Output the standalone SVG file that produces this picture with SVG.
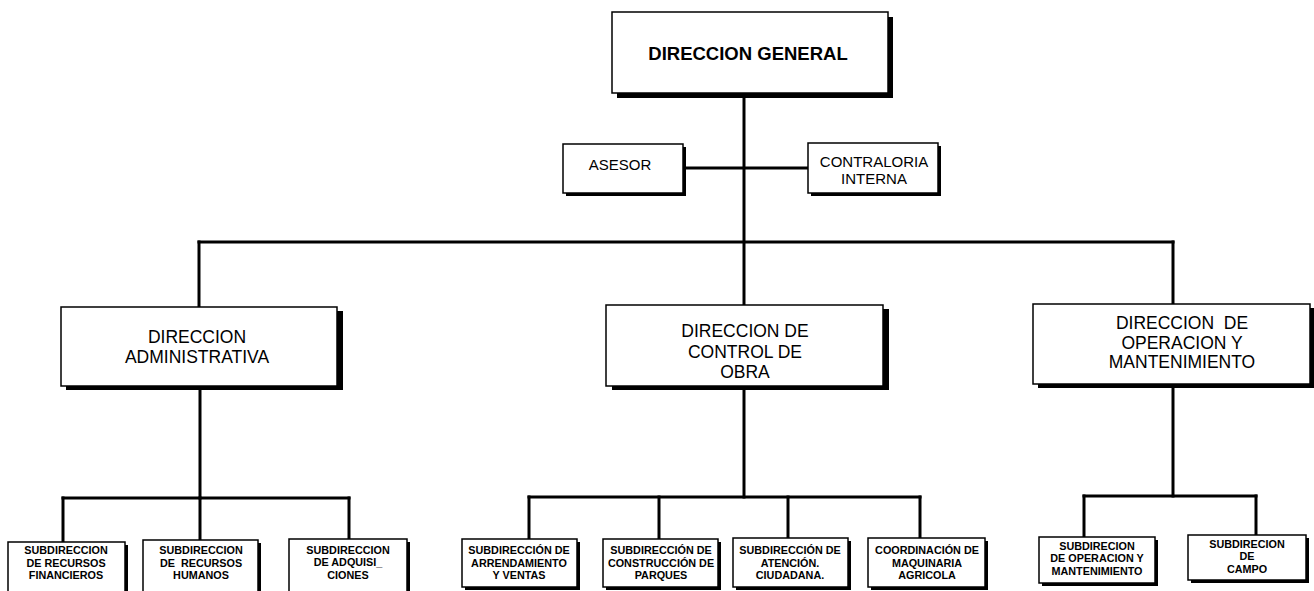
<svg xmlns="http://www.w3.org/2000/svg" width="1314" height="591" viewBox="0 0 1314 591">
<style>
.bg{fill:#ffffff}
.sh{fill:#000000}
.bx{fill:#ffffff;stroke:#000000;stroke-width:1.5}
.ln{stroke:#000000;stroke-width:3;fill:none;stroke-linecap:square}
.t{font-family:"Liberation Sans",Arial,sans-serif;fill:#000000;text-anchor:middle}
.big{font-size:17.5px}
.mid{font-size:15px}
.title{font-size:18.5px;font-weight:bold}
.sm{font-size:10.8px;font-weight:bold}
</style>
<rect class="bg" x="0" y="0" width="1314" height="591"/>
<g id="connectors">
<path class="ln" d="M744 93 V305"/>
<path class="ln" d="M683 168 H808"/>
<path class="ln" d="M199 242 H1173"/>
<path class="ln" d="M199 242 V307"/>
<path class="ln" d="M1173 242 V304"/>
<path class="ln" d="M200 386 V498"/>
<path class="ln" d="M63 498 H349"/>
<path class="ln" d="M63 498 V542"/>
<path class="ln" d="M200 498 V540"/>
<path class="ln" d="M349 498 V539"/>
<path class="ln" d="M744 386 V497"/>
<path class="ln" d="M529 497 H920"/>
<path class="ln" d="M529 497 V539"/>
<path class="ln" d="M659 497 V539"/>
<path class="ln" d="M788 497 V538"/>
<path class="ln" d="M920 497 V538"/>
<path class="ln" d="M1173 384 V496"/>
<path class="ln" d="M1084 496 H1256"/>
<path class="ln" d="M1084 496 V537"/>
<path class="ln" d="M1256 496 V535"/>
</g>
<g id="direccion-general">
<rect class="sh" x="617" y="17" width="276" height="81"/>
<rect class="bx" x="612" y="12" width="276" height="81"/>
<text class="t title" x="748" y="60">DIRECCION GENERAL</text>
</g>
<g id="asesor">
<rect class="sh" x="566" y="147" width="120" height="49"/>
<rect class="bx" x="563" y="144" width="120" height="49"/>
<text class="t mid" x="620" y="170">ASESOR</text>
</g>
<g id="contraloria">
<rect class="sh" x="811" y="146" width="130" height="50"/>
<rect class="bx" x="808" y="143" width="130" height="50"/>
<text class="t mid" x="874" y="167">CONTRALORIA</text>
<text class="t mid" x="874" y="184">INTERNA</text>
</g>
<g id="dir-administrativa">
<rect class="sh" x="66" y="311" width="277" height="79"/>
<rect class="bx" x="61" y="307" width="276" height="79"/>
<text class="t big" x="197" y="343">DIRECCION</text>
<text class="t big" x="197" y="363">ADMINISTRATIVA</text>
</g>
<g id="dir-control-obra">
<rect class="sh" x="612" y="309" width="277" height="81"/>
<rect class="bx" x="606" y="305" width="277" height="81"/>
<text class="t big" x="745" y="337">DIRECCION DE</text>
<text class="t big" x="745" y="357.5">CONTROL DE</text>
<text class="t big" x="745" y="377.5">OBRA</text>
</g>
<g id="dir-operacion">
<rect class="sh" x="1038" y="308" width="277" height="80"/>
<rect class="bx" x="1033" y="304" width="277" height="80"/>
<text class="t big" x="1182" y="329" style="white-space:pre">DIRECCION  DE</text>
<text class="t big" x="1182" y="349">OPERACION Y</text>
<text class="t big" x="1182" y="368">MANTENIMIENTO</text>
</g>
<g id="sub-financieros">
<rect class="sh" x="11" y="545" width="117" height="60"/>
<rect class="bx" x="8" y="542" width="117" height="60"/>
<text class="t sm" x="66" y="554">SUBDIRECCION</text>
<text class="t sm" x="66" y="566.5">DE RECURSOS</text>
<text class="t sm" x="66" y="579">FINANCIEROS</text>
</g>
<g id="sub-humanos">
<rect class="sh" x="146" y="543" width="115" height="60"/>
<rect class="bx" x="143" y="540" width="115" height="60"/>
<text class="t sm" x="201" y="554">SUBDIRECCION</text>
<text class="t sm" x="201" y="566.5" style="white-space:pre">DE  RECURSOS</text>
<text class="t sm" x="201" y="579">HUMANOS</text>
</g>
<g id="sub-adquisiciones">
<rect class="sh" x="292" y="542" width="118" height="60"/>
<rect class="bx" x="289" y="539" width="118" height="60"/>
<text class="t sm" x="348" y="554">SUBDIRECCION</text>
<text class="t sm" x="348" y="566">DE ADQUISI_</text>
<text class="t sm" x="348" y="578.5">CIONES</text>
</g>
<g id="sub-arrendamiento">
<rect class="sh" x="465" y="542" width="115" height="48"/>
<rect class="bx" x="462" y="539" width="115" height="48"/>
<text class="t sm" x="519" y="554">SUBDIRECCIÓN DE</text>
<text class="t sm" x="519" y="566.5">ARRENDAMIENTO</text>
<text class="t sm" x="519" y="579">Y VENTAS</text>
</g>
<g id="sub-parques">
<rect class="sh" x="606" y="542" width="115" height="48"/>
<rect class="bx" x="603" y="539" width="115" height="48"/>
<text class="t sm" x="661" y="554">SUBDIRECCIÓN DE</text>
<text class="t sm" x="661" y="566.5">CONSTRUCCIÓN DE</text>
<text class="t sm" x="661" y="579">PARQUES</text>
</g>
<g id="sub-atencion">
<rect class="sh" x="736" y="541" width="115" height="49"/>
<rect class="bx" x="733" y="538" width="115" height="49"/>
<text class="t sm" x="790" y="554">SUBDIRECCIÓN DE</text>
<text class="t sm" x="790" y="566.5">ATENCIÓN.</text>
<text class="t sm" x="790" y="579">CIUDADANA.</text>
</g>
<g id="coord-maquinaria">
<rect class="sh" x="871" y="541" width="117" height="49"/>
<rect class="bx" x="868" y="538" width="117" height="49"/>
<text class="t sm" x="927" y="554">COORDINACIÓN DE</text>
<text class="t sm" x="927" y="566.5">MAQUINARIA</text>
<text class="t sm" x="927" y="579">AGRICOLA</text>
</g>
<g id="sub-operacion-mant">
<rect class="sh" x="1042" y="540" width="116" height="46"/>
<rect class="bx" x="1039" y="537" width="116" height="46"/>
<text class="t sm" x="1097" y="550">SUBDIRECION</text>
<text class="t sm" x="1097" y="562">DE OPERACION Y</text>
<text class="t sm" x="1097" y="574.5">MANTENIMIENTO</text>
</g>
<g id="sub-campo">
<rect class="sh" x="1191" y="538" width="118" height="45"/>
<rect class="bx" x="1188" y="535" width="118" height="45"/>
<text class="t sm" x="1247" y="548">SUBDIRECION</text>
<text class="t sm" x="1247" y="560">DE</text>
<text class="t sm" x="1247" y="572.5">CAMPO</text>
</g>
</svg>
